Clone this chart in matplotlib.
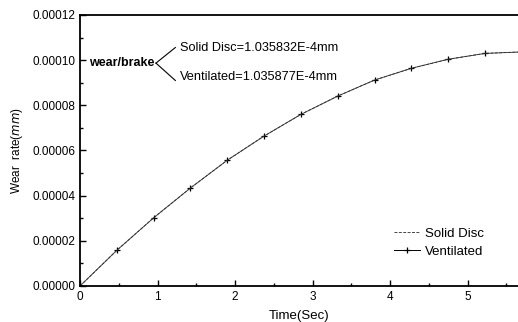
import numpy as np
import matplotlib.pyplot as plt
from matplotlib.ticker import FormatStrFormatter, MultipleLocator

plt.rcParams['font.family'] = ['Liberation Sans', 'DejaVu Sans']

# time samples (s) and wear (mm)
time = [0, 0.475, 0.95, 1.425, 1.9, 2.375, 2.85, 3.325, 3.8, 4.275, 4.75, 5.225, 5.65]
solid = [0, 1.58e-5, 3.02e-5, 4.34e-5, 5.57e-5, 6.64e-5, 7.60e-5, 8.41e-5, 9.12e-5,
         9.64e-5, 1.004e-4, 1.030e-4, 1.0358e-4]
vent = [0, 1.58e-5, 3.02e-5, 4.34e-5, 5.57e-5, 6.64e-5, 7.60e-5, 8.41e-5, 9.12e-5,
        9.64e-5, 1.004e-4, 1.030e-4, 1.0359e-4]

fig = plt.figure(figsize=(5.18, 3.22), dpi=100)
ax = fig.add_axes([80/518, 1-286/322, 1-80/518, 271/322])

ax.plot(time, solid, color='#444444', lw=0.7, ls=(0, (3, 1.5)), label='Solid Disc')
ax.plot(time[:-1], vent[:-1], color='black', lw=0.6, marker='+', ms=5, mew=0.9,
        ls='none')
ax.plot(time, vent, color='#333333', lw=0.6, label='_v')
ax.plot([], [], color='black', lw=0.7, marker='+', ms=5, mew=0.9, label='Ventilated')

ax.set_xlim(0, 5.65)
ax.set_ylim(0, 0.00012)
ax.xaxis.set_major_locator(MultipleLocator(1))
ax.xaxis.set_minor_locator(MultipleLocator(0.5))
ax.yaxis.set_major_locator(MultipleLocator(0.00002))
ax.yaxis.set_minor_locator(MultipleLocator(0.00001))
ax.yaxis.set_major_formatter(FormatStrFormatter('%.5f'))
ax.tick_params(which='both', direction='in', labelsize=8.5, width=1)
ax.tick_params(which='major', length=4)
ax.tick_params(which='minor', length=2.5)
ax.spines['right'].set_visible(False)
for s in ['left', 'bottom', 'top']:
    ax.spines[s].set_linewidth(1.3)

ax.set_xlabel('Time(Sec)', fontsize=9.5, labelpad=5)
ax.set_ylabel(r'Wear  rate($\it{mm}$)', fontsize=8.5, labelpad=5)

# brace-like annotation
ax.text(0.12, 0.0000987, 'wear/brake', fontsize=9, fontweight='bold', va='center')
ax.plot([0.98, 1.23], [0.0000987, 0.0001056], color='black', lw=0.8)
ax.plot([0.98, 1.23], [0.0000987, 0.0000910], color='black', lw=0.8)
ax.text(1.29, 0.0001056, 'Solid Disc=1.035832E-4mm', fontsize=9.2, va='center')
ax.text(1.29, 0.0000925, 'Ventilated=1.035877E-4mm', fontsize=9.2, va='center')

ax.legend(loc='lower right', bbox_to_anchor=(0.95, 0.06), frameon=False,
          fontsize=9.5, handlelength=2.0, handletextpad=0.4, labelspacing=0.45)

fig.savefig('out.png', dpi=100)
